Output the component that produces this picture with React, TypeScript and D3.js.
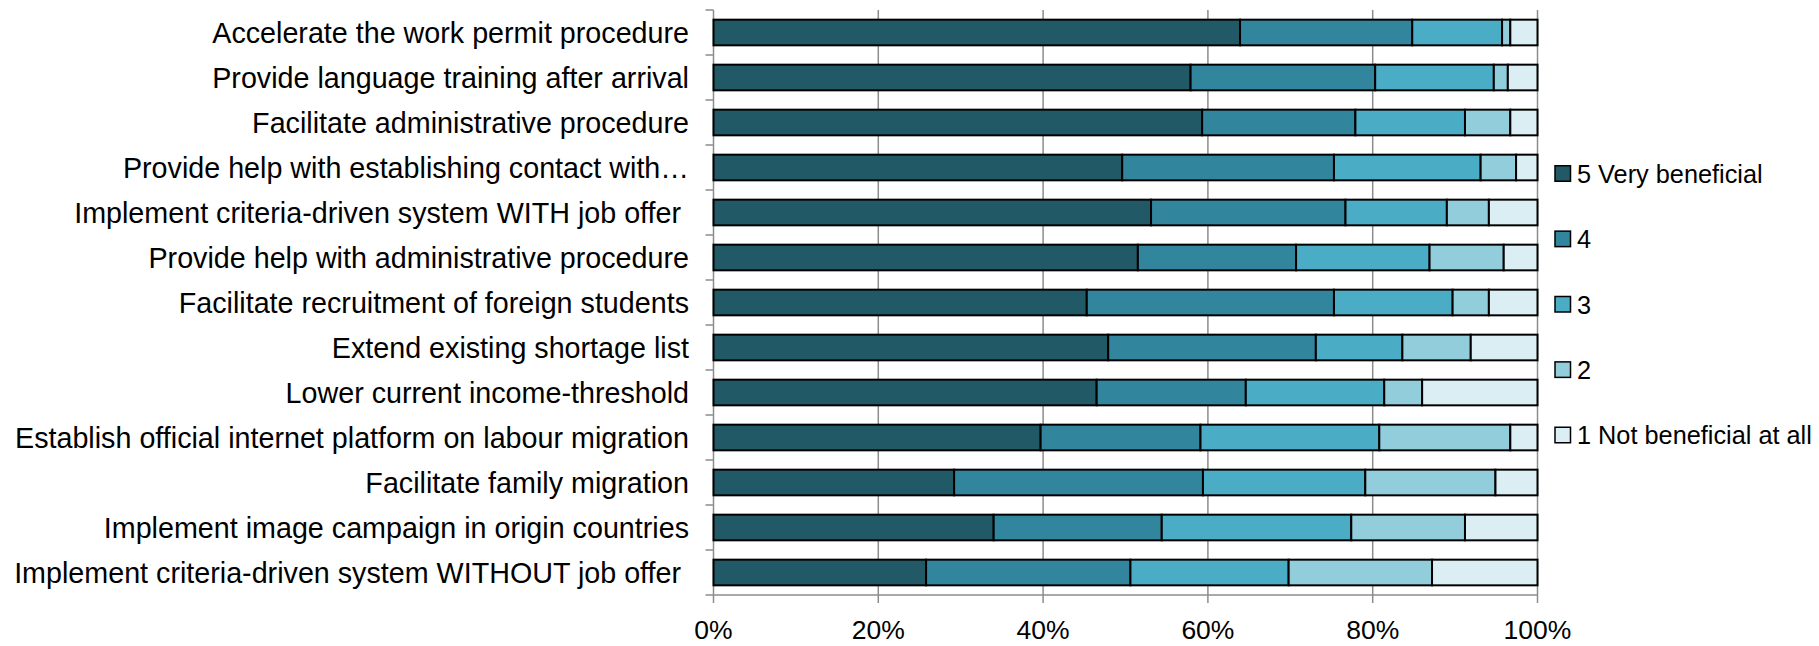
import React from "react";
import * as d3 from "d3";

// Survey measures, top to bottom
const measures = [
  "Accelerate the work permit procedure",
  "Provide language training after arrival",
  "Facilitate administrative procedure",
  "Provide help with establishing contact with…",
  "Implement criteria-driven system WITH job offer ",
  "Provide help with administrative procedure",
  "Facilitate recruitment of foreign students",
  "Extend existing shortage list",
  "Lower current income-threshold",
  "Establish official internet platform on labour migration",
  "Facilitate family migration",
  "Implement image campaign in origin countries",
  "Implement criteria-driven system WITHOUT job offer ",
];

// Share of respondents (%) per rating, same order as measures
const veryBeneficial = [63.9, 57.9, 59.3, 49.6, 53.1, 51.5, 45.3, 47.9, 46.5, 39.7, 29.2, 34.0, 25.8];
const rating4 = [20.9, 22.4, 18.6, 25.7, 23.6, 19.2, 30.0, 25.2, 18.1, 19.4, 30.2, 20.4, 24.8];
const rating3 = [10.9, 14.4, 13.3, 17.8, 12.3, 16.2, 14.4, 10.5, 16.8, 21.7, 19.7, 23.0, 19.2];
const rating2 = [1.0, 1.7, 5.5, 4.3, 5.1, 9.0, 4.4, 8.3, 4.6, 15.9, 15.8, 13.8, 17.4];
const notBeneficial = [3.3, 3.6, 3.3, 2.6, 5.9, 4.1, 5.9, 8.1, 14.0, 3.3, 5.1, 8.8, 12.8];

const seriesNames = ["5 Very beneficial", "4", "3", "2", "1 Not beneficial at all"];
const seriesColors = ["#215967", "#31859C", "#4BACC6", "#92CDDC", "#DAEEF3"];
const xTicks = [0, 20, 40, 60, 80, 100];

const W = 1819;
const H = 646;
const FONT = "'Liberation Sans', Arial, sans-serif";

export default function App() {
  const rows = measures.map((m, i) => ({
    measure: m,
    [seriesNames[0]]: veryBeneficial[i],
    [seriesNames[1]]: rating4[i],
    [seriesNames[2]]: rating3[i],
    [seriesNames[3]]: rating2[i],
    [seriesNames[4]]: notBeneficial[i],
  }));
  const stacked = d3.stack<any>().keys(seriesNames)(rows);

  const x = d3.scaleLinear().domain([0, 100]).range([713.5, 1537.5]);
  const y = d3
    .scaleBand<string>()
    .domain(measures)
    .range([10, 595])
    .paddingInner(0.43)
    .paddingOuter(0.215);
  const step = y.step();
  const [y0, y1] = y.range();
  const grid = "#8c8c8c";

  const legendY = d3.scalePoint<string>().domain(seriesNames).range([173.5, 435]);

  return (
    <svg
      width={W}
      height={H}
      style={{ position: "absolute", left: 0, top: 0, background: "#fff" }}
      fontFamily={FONT}
    >
      {/* vertical gridlines */}
      {xTicks.map((t) => (
        <line key={"g" + t} x1={x(t)} x2={x(t)} y1={y0} y2={y1} stroke={grid} strokeWidth={1.5} />
      ))}
      {/* category axis ticks */}
      {d3.range(measures.length + 1).map((i) => (
        <line
          key={"ct" + i}
          x1={x(0) - 8}
          x2={x(0)}
          y1={y0 + i * step}
          y2={y0 + i * step}
          stroke={grid}
          strokeWidth={1.5}
        />
      ))}
      {/* value axis */}
      <line x1={x(0)} x2={x(100)} y1={y1} y2={y1} stroke={grid} strokeWidth={1.5} />
      {xTicks.map((t) => (
        <g key={"xt" + t}>
          <line x1={x(t)} x2={x(t)} y1={y1} y2={y1 + 8} stroke={grid} strokeWidth={1.5} />
          <text x={x(t)} y={y1 + 44} textAnchor="middle" fontSize={26.5} fill="#000">
            {t + "%"}
          </text>
        </g>
      ))}
      {/* stacked bars */}
      {stacked.map((layer, li) => (
        <g key={layer.key} fill={seriesColors[li]} stroke="#000" strokeWidth={2}>
          {layer.map((d: any, i: number) => (
            <rect
              key={i}
              x={x(d[0])}
              y={y(measures[i])!}
              width={x(d[1]) - x(d[0])}
              height={y.bandwidth()}
            />
          ))}
        </g>
      ))}
      {/* category labels */}
      {measures.map((m) => (
        <text
          key={m}
          x={689}
          y={y(m)! + y.bandwidth() / 2}
          dy="0.35em"
          textAnchor="end"
          fontSize={28.7}
          fill="#000"
          style={{ whiteSpace: "pre" }}
        >
          {m}
        </text>
      ))}
      {/* legend */}
      {seriesNames.map((s, i) => (
        <g key={s} transform={`translate(1555, ${legendY(s)})`}>
          <rect x={0} y={-7.75} width={15.5} height={15.5} fill={seriesColors[i]} stroke="#000" strokeWidth={1.5} />
          <text x={22} y={0} dy="0.37em" fontSize={25.3} fill="#000">
            {s}
          </text>
        </g>
      ))}
    </svg>
  );
}
